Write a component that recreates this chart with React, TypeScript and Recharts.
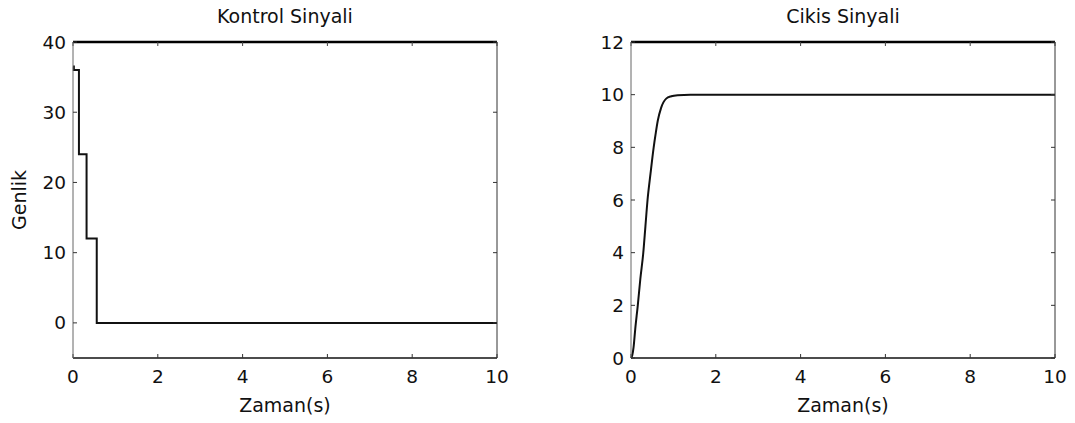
import React from 'react';
import { LineChart, Line, XAxis, YAxis } from 'recharts';

// eksen degerleri
const zamanTicks = [0, 2, 4, 6, 8, 10];
const kontrolTicks = [0, 10, 20, 30, 40];
const cikisTicks = [0, 2, 4, 6, 8, 10, 12];

// kontrol sinyali (basamakli)
const kontrolZaman = [0, 0.02, 0.14, 0.32, 0.56, 10];
const kontrolDeger = [36.5, 36, 24, 12, 0, 0];

// cikis sinyali
const cikisZaman = [0, 0.03, 0.06, 0.1, 0.16, 0.22, 0.29, 0.34, 0.39, 0.46, 0.535, 0.58, 0.63, 0.71, 0.83, 0.95, 1.1, 1.4, 2, 4, 6, 8, 10];
const cikisDeger = [0, 0.1, 0.4, 1.1, 2.0, 3.0, 4.0, 5.0, 6.0, 7.0, 8.0, 8.5, 9.0, 9.5, 9.85, 9.94, 9.98, 10, 10, 10, 10, 10, 10];

const kontrolData = kontrolZaman.map((t, i) => ({ t, v: kontrolDeger[i] }));
const cikisData = cikisZaman.map((t, i) => ({ t, v: cikisDeger[i] }));

const FONT = 'DejaVu Sans';
const tickStyle = { fontSize: 18.5, fill: '#111', fontFamily: FONT };
const labelStyle = { fontSize: 19, fill: '#111', fontFamily: FONT };

interface PanelProps {
  left: number;
  width: number;
  margin: { top: number; right: number; bottom: number; left: number };
  data: { t: number; v: number }[];
  title: string;
  yDomain: [number, number];
  yTicks: number[];
  yLabel?: string;
  step?: boolean;
}

const Panel: React.FC<PanelProps> = ({ left, width, margin, data, title, yDomain, yTicks, yLabel, step }) => (
  <div style={{ position: 'absolute', left, top: 0 }}>
    <LineChart width={width} height={423} data={data} margin={margin}>
      <XAxis
        dataKey="t"
        type="number"
        domain={[0, 10]}
        ticks={zamanTicks}
        interval={0}
        tickSize={-4}
        tickMargin={16}
        tick={tickStyle}
        height={60}
        axisLine={{ stroke: '#111', strokeWidth: 1.5 }}
        tickLine={{ stroke: '#333' }}
        label={{ value: 'Zaman(s)', position: 'insideBottom', offset: 6.5, style: labelStyle }}
      />
      {/* ust ve sag kenar (kutu) icin ikinci eksenler */}
      <XAxis
        xAxisId="top"
        dataKey="t"
        orientation="top"
        type="number"
        domain={[0, 10]}
        ticks={zamanTicks}
        interval={0}
        tickSize={-4}
        tickFormatter={() => ''}
        height={1}
        axisLine={{ stroke: '#000', strokeWidth: 2.5 }}
        tickLine={{ stroke: '#444' }}
        label={{ value: title, position: 'top', offset: 17.7, style: labelStyle }}
      />
      <YAxis
        type="number"
        domain={yDomain}
        ticks={yTicks}
        interval={0}
        tickSize={-4}
        tickMargin={11}
        width={60}
        tick={tickStyle}
        axisLine={{ stroke: '#666' }}
        tickLine={{ stroke: '#333' }}
        label={
          yLabel
            ? { value: yLabel, angle: -90, position: 'insideLeft', offset: 6, style: { ...labelStyle, textAnchor: 'middle' } }
            : undefined
        }
      />
      <YAxis
        yAxisId="right"
        orientation="right"
        type="number"
        domain={yDomain}
        ticks={yTicks}
        interval={0}
        tickSize={-4}
        tickFormatter={() => ''}
        width={1}
        axisLine={{ stroke: '#333' }}
        tickLine={{ stroke: '#333' }}
      />
      <Line
        dataKey="v"
        type={step ? 'stepAfter' : 'monotone'}
        stroke="#111"
        strokeWidth={2}
        dot={false}
        isAnimationActive={false}
      />
      {/* gorunmez seri: ikinci eksenlerin cizilmesi icin */}
      <Line
        xAxisId="top"
        yAxisId="right"
        dataKey="v"
        stroke="none"
        strokeWidth={0}
        dot={false}
        activeDot={false}
        legendType="none"
        isAnimationActive={false}
      />
    </LineChart>
  </div>
);

export default function App() {
  return (
    <div style={{ position: 'absolute', left: 0, top: 0, width: 1075, height: 423, background: '#fff', fontFamily: FONT }}>
      <Panel
        left={0}
        width={520}
        margin={{ top: 41, right: 22, bottom: 5, left: 13 }}
        data={kontrolData}
        title="Kontrol Sinyali"
        yDomain={[-5, 40]}
        yTicks={kontrolTicks}
        yLabel="Genlik"
        step
      />
      <Panel
        left={540}
        width={535}
        margin={{ top: 41, right: 19, bottom: 5, left: 31 }}
        data={cikisData}
        title="Cikis Sinyali"
        yDomain={[0, 12]}
        yTicks={cikisTicks}
      />
    </div>
  );
}
